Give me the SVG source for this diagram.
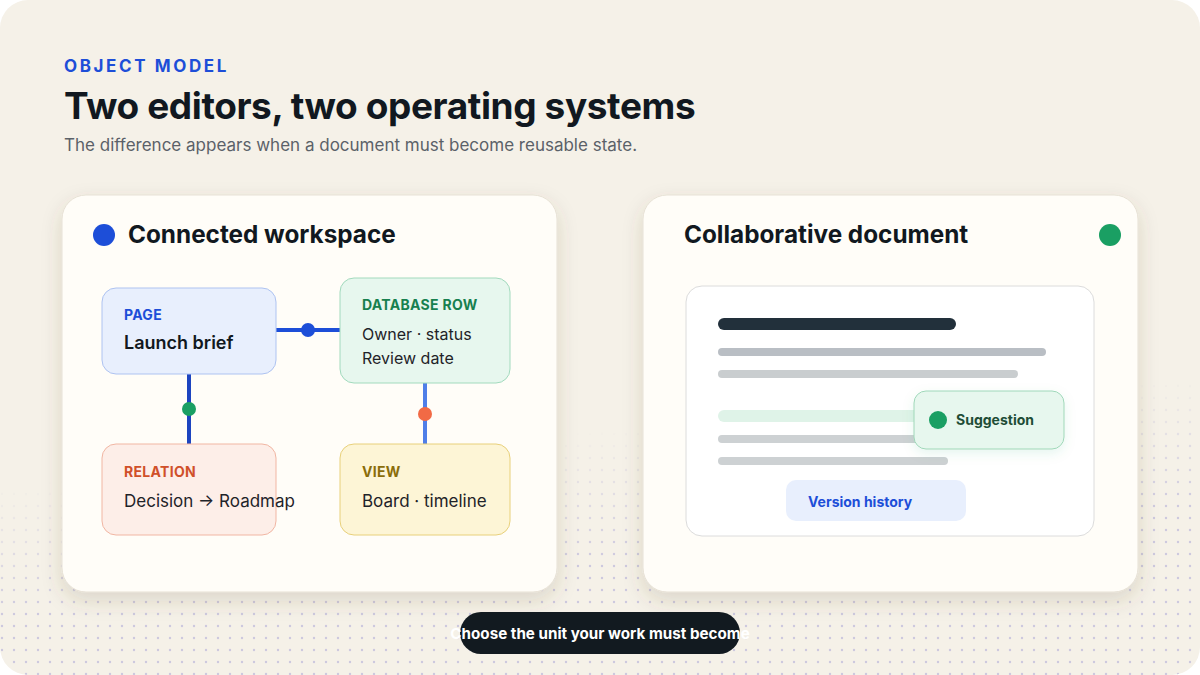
<svg xmlns="http://www.w3.org/2000/svg" width="1200" height="675" viewBox="0 0 1200 675">
<defs>
<style>
.sans{font-family:Inter,"Noto Sans","Liberation Sans",sans-serif}
.card{fill:#fffdf8;stroke:#e7e1d5;stroke-width:1}
.kicker{font-size:14px;font-weight:700;letter-spacing:0.3px}
.body{font-size:16px;fill:#1f2328}
.body2{font-size:17px;fill:#1f2328}
.conn{stroke-width:4;fill:none}
.bar{stroke:none}
</style>
<pattern id="dots" x="0" y="0" width="12" height="12" patternUnits="userSpaceOnUse">
<circle cx="2" cy="2" r="1.2" fill="#ccc8de"/>
</pattern>
<linearGradient id="fade" gradientUnits="userSpaceOnUse" x1="600" y1="430" x2="612" y2="560">
<stop offset="0" stop-color="#fff" stop-opacity="0"/>
<stop offset="1" stop-color="#fff" stop-opacity="1"/>
</linearGradient>
<mask id="dotmask"><rect x="0" y="0" width="1200" height="675" fill="url(#fade)"/></mask>
<filter id="shadow" x="-10%" y="-10%" width="120%" height="130%">
<feDropShadow dx="0" dy="8" stdDeviation="10" flood-color="#5a4a2a" flood-opacity="0.16"/>
</filter>
<filter id="soft" x="-20%" y="-20%" width="140%" height="160%">
<feDropShadow dx="0" dy="4" stdDeviation="6" flood-color="#1a9f63" flood-opacity="0.10"/>
</filter>
</defs>
<rect x="0" y="0" width="1200" height="675" fill="#ffffff"/>
<rect x="0" y="0" width="1200" height="675" rx="28" fill="#f5f1e8"/>
<rect x="0" y="0" width="1200" height="675" rx="28" fill="url(#dots)" mask="url(#dotmask)"/>

<g id="header" class="sans">
<text x="64" y="72" fill="#1d4ed8" font-size="17" font-weight="700" letter-spacing="2.6">OBJECT MODEL</text>
<text x="64" y="119" fill="#111820" font-size="37" font-weight="700" letter-spacing="-0.4">Two editors, two operating systems</text>
<text x="64" y="151" fill="#5b6168" font-size="17">The difference appears when a document must become reusable state.</text>
</g>

<g id="card-left">
<rect class="card" x="62" y="195" width="495" height="397" rx="24" filter="url(#shadow)"/>
<circle cx="104" cy="235" r="11" fill="#1d4ed8"/>
<text class="sans" x="128" y="243" font-size="24.3" font-weight="700" fill="#111820">Connected workspace</text>
</g>

<g id="card-right">
<rect class="card" x="643" y="195" width="495" height="397" rx="24" filter="url(#shadow)"/>
<text class="sans" x="684" y="243" font-size="24.3" font-weight="700" fill="#111820">Collaborative document</text>
<circle cx="1110" cy="235" r="11" fill="#1a9f63"/>
</g>

<g id="connectors">
<line class="conn" x1="276" y1="330" x2="341" y2="330" stroke="#1d4ed8"/>
<circle cx="308" cy="330" r="7" fill="#1d4ed8"/>
<line class="conn" x1="189" y1="374" x2="189" y2="445" stroke="#1d44c0"/>
<circle cx="189" cy="409" r="7" fill="#1a9f63"/>
<line class="conn" x1="425" y1="383" x2="425" y2="445" stroke="#4f7ee8"/>
<circle cx="425" cy="414" r="7" fill="#f26a45"/>
</g>

<g id="node-page" class="sans">
<rect x="102" y="288" width="174" height="86" rx="14" fill="#e8effd" stroke="#aec3f1"/>
<text class="kicker" x="124" y="320" fill="#1d4ed8">PAGE</text>
<text x="124" y="349" font-size="18" font-weight="600" fill="#111820">Launch brief</text>
</g>

<g id="node-database-row" class="sans">
<rect x="340" y="278" width="170" height="105" rx="14" fill="#e7f7ee" stroke="#a2dabd"/>
<text class="kicker" x="362" y="310" fill="#17804f">DATABASE ROW</text>
<text class="body" x="362" y="340">Owner · status</text>
<text class="body" x="362" y="364">Review date</text>
</g>

<g id="node-relation" class="sans">
<rect x="102" y="444" width="174" height="91" rx="14" fill="#fdeee8" stroke="#f1b6a3"/>
<text class="kicker" x="124" y="477" fill="#d0502a">RELATION</text>
<text class="body2" x="124" y="507">Decision → Roadmap</text>
</g>

<g id="node-view" class="sans">
<rect x="340" y="444" width="170" height="91" rx="14" fill="#fdf5d6" stroke="#e8d07a"/>
<text class="kicker" x="362" y="477" fill="#8a6d0a">VIEW</text>
<text class="body2" x="362" y="507">Board · timeline</text>
</g>

<g id="document">
<rect x="686" y="286" width="408" height="250" rx="16" fill="#ffffff" stroke="#dcdcdc"/>
<rect class="bar" x="718" y="318" width="238" height="12" rx="6" fill="#22303b"/>
<rect class="bar" x="718" y="348" width="328" height="8" rx="4" fill="#b9bec4"/>
<rect class="bar" x="718" y="370" width="300" height="8" rx="4" fill="#c9cdcf"/>
<rect class="bar" x="718" y="410" width="220" height="12" rx="6" fill="#dff3e8"/>
<rect class="bar" x="718" y="435" width="220" height="8" rx="4" fill="#cdd1d3"/>
<rect class="bar" x="718" y="457" width="230" height="8" rx="4" fill="#cdd1d3"/>
</g>

<g id="suggestion" class="sans">
<rect x="914" y="391" width="150" height="58" rx="12" fill="#e7f7ee" stroke="#9fd8b9" filter="url(#soft)"/>
<circle cx="938" cy="420" r="9" fill="#1a9f63"/>
<text x="956" y="425" font-size="14" font-weight="700" fill="#1e4d36">Suggestion</text>
</g>

<g id="version-history" class="sans">
<rect x="786" y="480" width="180" height="41" rx="10" fill="#e8effd"/>
<text x="808" y="507" font-size="14" font-weight="700" fill="#1d4ed8">Version history</text>
</g>

<g id="footer-pill" class="sans">
<rect x="460" y="612" width="280" height="42" rx="21" fill="#121a20"/>
<text x="600" y="639" text-anchor="middle" font-size="15.2" font-weight="700" fill="#ffffff">Choose the unit your work must become</text>
</g>
</svg>
